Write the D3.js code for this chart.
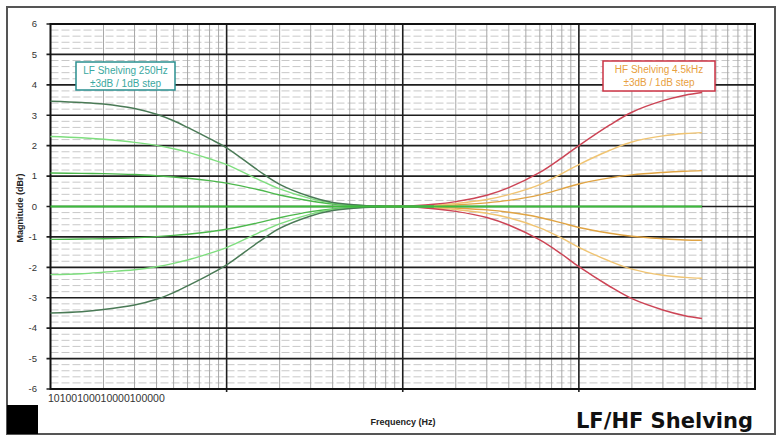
<!DOCTYPE html>
<html>
<head>
<meta charset="utf-8">
<script src="https://cdn.jsdelivr.net/npm/d3@7"></script>
<style>
  body { margin: 0; background: #fff; }
  svg { display: block; font-family: Arial, "Liberation Sans", sans-serif; }
</style>
</head>
<body>
<div id="chart"></div>
<script>
// tick labels
const yTicks = [-6, -5, -4, -3, -2, -1, 0, 1, 2, 3, 4, 5, 6];
const xTickLabels = ["10", "100", "1000", "10000", "100000"];

// LF shelving curves (dB)
const lfFreq = [10, 15, 20, 30, 40, 50, 60, 80, 100, 150, 200, 300, 400, 600, 800, 1000, 1500];
const lfPlus3 = [3.46, 3.42, 3.37, 3.22, 3.03, 2.82, 2.60, 2.23, 1.93, 1.20, 0.73, 0.32, 0.13, 0.03, 0.01, 0, 0];
const lfPlus2 = [2.30, 2.26, 2.21, 2.11, 2.01, 1.90, 1.79, 1.57, 1.38, 0.90, 0.58, 0.26, 0.11, 0.03, 0.01, 0, 0];
const lfPlus1 = [1.10, 1.09, 1.08, 1.05, 1.01, 0.97, 0.93, 0.85, 0.77, 0.56, 0.38, 0.18, 0.08, 0.02, 0.01, 0, 0];
const lfMinus1 = [-1.08, -1.07, -1.06, -1.03, -0.99, -0.95, -0.91, -0.83, -0.75, -0.54, -0.37, -0.17, -0.08, -0.02, -0.01, 0, 0];
const lfMinus2 = [-2.24, -2.21, -2.16, -2.08, -1.98, -1.87, -1.76, -1.54, -1.35, -0.88, -0.57, -0.25, -0.10, -0.03, -0.01, 0, 0];
const lfMinus3 = [-3.50, -3.46, -3.39, -3.24, -3.05, -2.83, -2.61, -2.24, -1.92, -1.19, -0.72, -0.31, -0.13, -0.03, -0.01, 0, 0];

// HF shelving curves (dB)
const hfFreq = [700, 1000, 1500, 2000, 3000, 4000, 6000, 8000, 10000, 15000, 20000, 30000, 40000, 50000];
const hfPlus3 = [0, 0, 0.07, 0.16, 0.37, 0.62, 1.12, 1.60, 2.00, 2.68, 3.10, 3.48, 3.66, 3.75];
const hfPlus2 = [0, 0, 0.04, 0.10, 0.23, 0.39, 0.72, 1.08, 1.38, 1.85, 2.12, 2.32, 2.40, 2.43];
const hfPlus1 = [0, 0, 0.02, 0.05, 0.12, 0.20, 0.38, 0.58, 0.74, 0.94, 1.04, 1.12, 1.16, 1.18];
const hfMinus1 = [0, 0, -0.02, -0.05, -0.11, -0.19, -0.36, -0.54, -0.69, -0.88, -0.98, -1.06, -1.10, -1.11];
const hfMinus2 = [0, 0, -0.04, -0.10, -0.22, -0.37, -0.70, -1.04, -1.34, -1.80, -2.06, -2.26, -2.33, -2.36];
const hfMinus3 = [0, 0, -0.07, -0.16, -0.36, -0.61, -1.10, -1.57, -1.98, -2.63, -3.03, -3.40, -3.59, -3.68];

// flat 0 dB line
const flatFreq = [10, 50000];
const flatVals = [0, 0];

const width = 779, height = 437;
const svg = d3.select("#chart").append("svg")
    .attr("width", width)
    .attr("height", height);

// outer frame
svg.append("rect")
    .attr("x", 7).attr("y", 7)
    .attr("width", 768).attr("height", 427)
    .attr("fill", "#fff")
    .attr("stroke", "#555")
    .attr("stroke-width", 2);

svg.append("rect")
    .attr("x", 7).attr("y", 405)
    .attr("width", 31).attr("height", 29)
    .attr("fill", "#000");

const x = d3.scaleLog().domain([10, 100000]).range([50.5, 755]);
const y = d3.scaleLinear().domain([-6, 6]).range([389, 24]);

const grid = svg.append("g");

// minor horizontal lines every 0.2 dB
const minorY = d3.range(-6, 6.001, 0.2).filter(v => Math.abs(v - Math.round(v)) > 0.01);
grid.selectAll("line.minor-h")
    .data(minorY)
    .enter().append("line")
    .attr("x1", x(10)).attr("x2", x(100000))
    .attr("y1", d => y(d)).attr("y2", d => y(d))
    .attr("stroke", "#c8c8c8")
    .attr("stroke-width", 1)
    .attr("stroke-dasharray", "8,3");

// minor vertical lines 2..9 per decade
const minorX = [];
[10, 100, 1000, 10000].forEach(dec => {
    for (let k = 2; k <= 9; k++) minorX.push(dec * k);
});
grid.selectAll("line.minor-v")
    .data(minorX)
    .enter().append("line")
    .attr("x1", d => x(d)).attr("x2", d => x(d))
    .attr("y1", y(6)).attr("y2", y(-6))
    .attr("stroke", "#a8a8a8")
    .attr("stroke-width", 1);

// major lines
grid.selectAll("line.major-h")
    .data(yTicks)
    .enter().append("line")
    .attr("x1", x(10) - 4).attr("x2", x(100000))
    .attr("y1", d => y(d)).attr("y2", d => y(d))
    .attr("stroke", "#1e1e1e")
    .attr("stroke-width", 1.6);

grid.selectAll("line.major-v")
    .data([100, 1000, 10000])
    .enter().append("line")
    .attr("x1", d => x(d)).attr("x2", d => x(d))
    .attr("y1", y(6)).attr("y2", y(-6) + 3)
    .attr("stroke", "#1e1e1e")
    .attr("stroke-width", 1.6);

// plot border
svg.append("rect")
    .attr("x", x(10)).attr("y", y(6))
    .attr("width", x(100000) - x(10))
    .attr("height", y(-6) - y(6))
    .attr("fill", "none")
    .attr("stroke", "#111")
    .attr("stroke-width", 2);

// y tick labels
svg.append("g")
    .selectAll("text")
    .data(yTicks)
    .enter().append("text")
    .attr("x", 37)
    .attr("y", d => y(d))
    .attr("dy", "0.35em")
    .attr("text-anchor", "end")
    .attr("font-size", 9.5)
    .attr("fill", "#333")
    .text(d => d);

// x tick labels, all crammed together at the left as in the original
svg.append("text")
    .attr("x", 48)
    .attr("y", 402)
    .attr("font-size", 10.5)
    .attr("fill", "#333")
    .text(xTickLabels.join(""));

// axis titles
svg.append("text")
    .attr("transform", "translate(23,208) rotate(-90)")
    .attr("text-anchor", "middle")
    .attr("font-size", 9)
    .attr("font-weight", "bold")
    .attr("fill", "#222")
    .text("Magnitude (dBr)");

svg.append("text")
    .attr("x", 403)
    .attr("y", 425)
    .attr("text-anchor", "middle")
    .attr("font-size", 9)
    .attr("font-weight", "bold")
    .attr("fill", "#222")
    .text("Frequency (Hz)");

svg.append("text")
    .attr("x", 753)
    .attr("y", 428)
    .attr("text-anchor", "end")
    .attr("font-family", "'DejaVu Sans', Verdana, sans-serif")
    .attr("font-size", 21)
    .attr("font-weight", "bold")
    .attr("fill", "#111")
    .text("LF/HF Shelving");

// curves
const line = d3.line()
    .x(d => x(d[0]))
    .y(d => y(d[1]))
    .curve(d3.curveCatmullRom.alpha(0.5));

const series = [
    { f: hfFreq, v: hfPlus1, color: "#e0a444", w: 1.4 },
    { f: hfFreq, v: hfMinus1, color: "#e0a444", w: 1.4 },
    { f: hfFreq, v: hfPlus2, color: "#f0c472", w: 1.4 },
    { f: hfFreq, v: hfMinus2, color: "#f0c472", w: 1.4 },
    { f: hfFreq, v: hfPlus3, color: "#cc4455", w: 1.5 },
    { f: hfFreq, v: hfMinus3, color: "#cc4455", w: 1.5 },
    { f: lfFreq, v: lfPlus1, color: "#4cb84c", w: 1.4 },
    { f: lfFreq, v: lfMinus1, color: "#4cb84c", w: 1.4 },
    { f: lfFreq, v: lfPlus2, color: "#7ede7e", w: 1.4 },
    { f: lfFreq, v: lfMinus2, color: "#7ede7e", w: 1.4 },
    { f: lfFreq, v: lfPlus3, color: "#4a7a56", w: 1.5 },
    { f: lfFreq, v: lfMinus3, color: "#4a7a56", w: 1.5 },
    { f: flatFreq, v: flatVals, color: "#3cbc3c", w: 2 }
];

svg.append("g")
    .selectAll("path")
    .data(series)
    .enter().append("path")
    .attr("d", s => line(s.f.map((f, i) => [f, s.v[i]])))
    .attr("fill", "none")
    .attr("stroke", s => s.color)
    .attr("stroke-width", s => s.w);

// legend boxes
function legendBox(x0, y0, w, h, border, color, lines) {
    const g = svg.append("g");
    g.append("rect")
        .attr("x", x0).attr("y", y0)
        .attr("width", w).attr("height", h)
        .attr("fill", "#fff")
        .attr("stroke", border)
        .attr("stroke-width", 1.5);
    g.selectAll("text")
        .data(lines)
        .enter().append("text")
        .attr("x", x0 + w / 2)
        .attr("y", (d, i) => y0 + 12 + i * 13)
        .attr("text-anchor", "middle")
        .attr("font-size", 10)
        .attr("fill", color)
        .text(d => d);
}

legendBox(76, 62, 99, 28, "#2a8f8f", "#3aa8a0", ["LF Shelving  250Hz", "±3dB / 1dB step"]);
legendBox(603, 61, 112, 30, "#cc3344", "#e8a040", ["HF Shelving  4.5kHz", "±3dB / 1dB step"]);
</script>
</body>
</html>
